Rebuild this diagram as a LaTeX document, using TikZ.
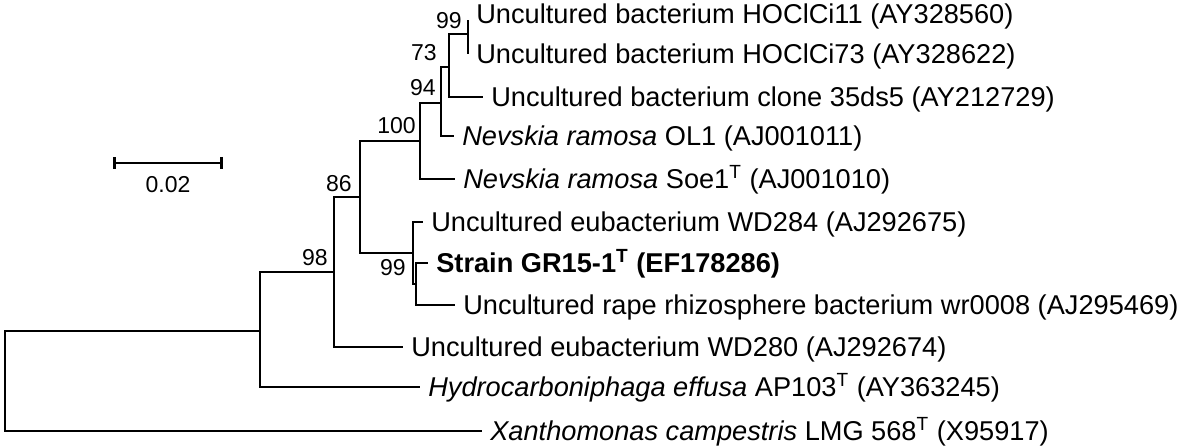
\documentclass[tikz,border=0pt]{standalone}
\usepackage{fontspec}
\setmainfont{Liberation Sans}
\usetikzlibrary{arrows.meta}

\begin{document}
\begin{tikzpicture}[x=0.5pt, y=-0.5pt, line width=1.3pt,
    leaf/.style={anchor=west, inner xsep=3.5pt, inner ysep=0pt, text height=9.7pt, text depth=0pt, font=\fontsize{13.6}{16}\selectfont},
    boot/.style={anchor=south east, inner sep=0pt, font=\fontsize{11.5}{13}\selectfont}]

      \useasboundingbox (0,0) rectangle (1183,448);

      % Taxa
      \node [leaf] (hoc11) at (468,13.5) {Uncultured bacterium HOClCi11 (AY328560)};
      \node [leaf] (hoc73) at (468,54) {Uncultured bacterium HOClCi73 (AY328622)};
      \node [leaf] (cl35) at (483,97) {Uncultured bacterium clone 35ds5 (AY212729)};
      \node [leaf] (ol1) at (454,136) {\textit{Nevskia ramosa} OL1 (AJ001011)};
      \node [leaf] (soe1) at (455,179) {\textit{Nevskia ramosa} Soe1\textsuperscript{T} (AJ001010)};
      \node [leaf] (wd284) at (423,222) {Uncultured eubacterium WD284 (AJ292675)};
      \node [leaf] (gr15) at (428,263) {\textbf{Strain GR15-1\textsuperscript{T} (EF178286)}};
      \node [leaf] (wr8) at (455,305) {Uncultured rape rhizosphere bacterium wr0008 (AJ295469)};
      \node [leaf] (wd280) at (403,347) {Uncultured eubacterium WD280 (AJ292674)};
      \node [leaf] (hyd) at (420,387) {\textit{Hydrocarboniphaga effusa} AP103\textsuperscript{T} (AY363245)};
      \node [leaf] (xan) at (482,431) {\textit{Xanthomonas campestris} LMG 568\textsuperscript{T} (X95917)};

      % Inner nodes
      \coordinate (root) at (5,380.5);
      \coordinate (nA) at (260,331);
      \coordinate (n98) at (334,272);
      \coordinate (n86) at (360,197);
      \coordinate (n100) at (420,141);
      \coordinate (n94) at (441,103);
      \coordinate (n73) at (449,67);
      \coordinate (n99a) at (468,34);
      \coordinate (t11) at (468,20);
      \coordinate (nWD) at (413,253);
      \coordinate (n99b) at (416,284);

      % Bootstrap values
      \node [boot] (b99a) at (463,30) {99};
      \node [boot] (b73) at (438,62) {73};
      \node [boot] (b94) at (437,97) {94};
      \node [boot] (b100) at (417,135) {100};
      \node [boot] (b86) at (353,193) {86};
      \node [boot] (b98) at (329,267) {98};
      \node [boot] (b99b) at (407,277) {99};

      % 
      % Branches
      \draw (root) |- (nA);
      \draw (root) |- (xan.west);
      \draw (nA) |- (n98);
      \draw (nA) |- (hyd.west);
      \draw (n98) |- (n86);
      \draw (n98) |- (wd280.west);
      \draw (n86) |- (n100);
      \draw (n86) |- (nWD);
      \draw (n100) |- (n94);
      \draw (n100) |- (soe1.west);
      \draw (n94) |- (n73);
      \draw (n94) |- (ol1.west);
      \draw (n73) |- (n99a);
      \draw (n73) |- (cl35.west);
      \draw (n99a) |- (t11);
      \draw (n99a) |- (hoc73.west);
      \draw (nWD) |- (wd284.west);
      \draw (nWD) |- (n99b);
      \draw (n99b) |- (gr15.west);
      \draw (n99b) |- (wr8.west);

      % Scale bar
      \coordinate (bar0) at (113,163);
      \coordinate (bar1) at (223,163);
      \draw [{Bar[width=6pt]}-{Bar[width=6pt]}] (bar0) -- (bar1);
      \node [font=\fontsize{11.5}{13}\selectfont] (barlbl) at (168,185) {0.02};
    \end{tikzpicture}
\end{document}
